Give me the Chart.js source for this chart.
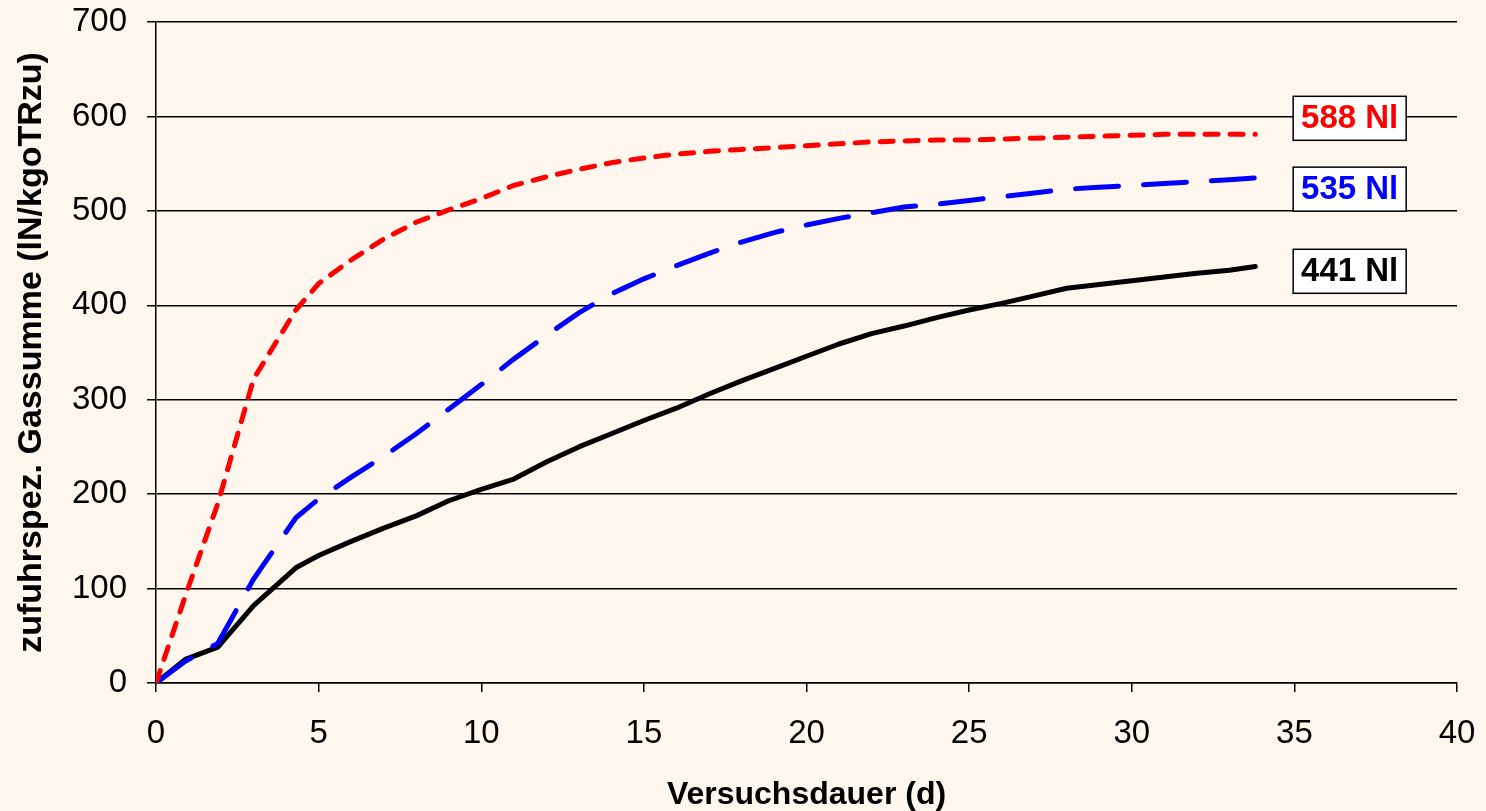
<!DOCTYPE html>
<html>
<head>
<meta charset="utf-8">
<script src="https://cdn.jsdelivr.net/npm/chart.js@4/dist/chart.umd.min.js"></script>
<style>
  html, body { margin: 0; padding: 0; background: #FFF6EE; }
  #wrap { width: 1486px; height: 811px; }
</style>
</head>
<body>
<div id="wrap"><canvas id="c" width="1486" height="811"></canvas></div>
<script>
// ---- data ----
const days = [0, 0.9, 1.9, 3.0, 4.3, 5, 6, 7, 8, 9, 10, 11, 12, 13, 14, 15, 16, 17, 18, 19, 20, 21, 22, 23, 24, 25, 26, 27, 28, 29, 30, 31, 32, 33, 33.8];
const redValues = [0, 92, 190, 322, 395, 423, 448, 470, 488, 501, 513, 527, 536, 544, 551, 556, 560, 563, 565, 567, 569, 571, 573, 574, 575, 575, 576, 577, 578, 579, 580, 581, 581, 581, 581];
const blueValues = [0, 23, 42, 110, 175, 195, 218, 240, 264, 290, 316, 343, 368, 392, 412, 428, 442, 455, 467, 477, 485, 492, 498, 504, 507, 511, 515, 519, 523, 525, 527, 529, 531, 533, 535];
const blackValues = [0, 25, 38, 82, 122, 135, 150, 164, 177, 193, 205, 216, 234, 250, 264, 278, 291, 306, 320, 333, 346, 359, 370, 378, 387, 395, 402, 410, 418, 422, 426, 430, 434, 437, 441];
const endLabels = ['588 Nl', '535 Nl', '441 Nl'];
const endLabelY = [598, 523, 436];
const endLabelX = 36.7;
const xTitle = 'Versuchsdauer (d)';
const yTitle = 'zufuhrspez. Gassumme (lN/kgoTRzu)';

const toXY = (vals) => vals.map((v, i) => ({ x: days[i], y: v }));
const FONT = '"Liberation Sans", Arial, sans-serif';

const bgPlugin = {
  id: 'bg',
  beforeDraw(chart) {
    const ctx = chart.ctx;
    ctx.save();
    ctx.fillStyle = '#FFF6EE';
    ctx.fillRect(0, 0, chart.width, chart.height);
    ctx.restore();
  }
};

const labelPlugin = {
  id: 'endLabels',
  afterDatasetsDraw(chart) {
    const ctx = chart.ctx;
    const xs = chart.scales.x, ys = chart.scales.y;
    const colors = ['#FF0000', '#0000FF', '#000000'];
    ctx.save();
    ctx.font = 'bold 33px ' + FONT;
    ctx.textAlign = 'center';
    ctx.textBaseline = 'middle';
    endLabels.forEach((t, i) => {
      const cx = xs.getPixelForValue(endLabelX);
      const cy = ys.getPixelForValue(endLabelY[i]);
      const w = 113, h = 44;
      ctx.fillStyle = '#FFFFFF';
      ctx.fillRect(cx - w / 2, cy - h / 2, w, h);
      ctx.lineWidth = 1.5;
      ctx.strokeStyle = '#000000';
      ctx.strokeRect(cx - w / 2, cy - h / 2, w, h);
      ctx.fillStyle = colors[i];
      ctx.fillText(t, cx, cy + 1);
    });
    ctx.restore();
  }
};

new Chart(document.getElementById('c'), {
  type: 'line',
  data: {
    datasets: [
      { data: toXY(redValues), borderColor: '#FF0000', borderWidth: 5, borderDash: [13, 12], borderCapStyle: 'round', pointRadius: 0, fill: false, tension: 0 },
      { data: toXY(blueValues), borderColor: '#0000FF', borderWidth: 5, borderDash: [43, 25], borderCapStyle: 'round', pointRadius: 0, fill: false, tension: 0 },
      { data: toXY(blackValues), borderColor: '#000000', borderWidth: 5, borderCapStyle: 'round', borderJoinStyle: 'round', pointRadius: 0, fill: false, tension: 0 }
    ]
  },
  options: {
    responsive: false,
    animation: false,
    layout: { padding: { left: 0, top: 22, right: 29, bottom: 0 } },
    plugins: { legend: { display: false }, tooltip: { enabled: false } },
    scales: {
      x: {
        type: 'linear', min: 0, max: 40,
        ticks: { stepSize: 5, color: '#000', font: { family: FONT, size: 33 }, padding: 22, maxRotation: 0 },
        grid: { display: true, drawOnChartArea: false, drawTicks: true, tickLength: 9, color: '#000', lineWidth: 1.5 },
        border: { display: true, color: '#000', width: 1.5 },
        title: { display: true, text: xTitle, color: '#000', font: { family: FONT, size: 32, weight: 'bold', lineHeight: 1 }, padding: { top: 0, bottom: 0 } },
        afterFit(s) { s.height = 128; s.paddingLeft = 0; s.paddingRight = 0; }
      },
      y: {
        min: 0, max: 700,
        ticks: { stepSize: 100, color: '#000', font: { family: FONT, size: 33 }, padding: 20 },
        grid: { display: true, drawTicks: true, tickLength: 9, color: '#000', lineWidth: 1.5 },
        border: { display: true, color: '#000', width: 1.5 },
        title: { display: true, text: yTitle, color: '#000', font: { family: FONT, size: 34, weight: 'bold', lineHeight: 1 }, padding: { top: 15, bottom: 0 } },
        afterFit(s) { s.width = 156; s.paddingTop = 0; s.paddingBottom = 0; }
      }
    }
  },
  plugins: [bgPlugin, labelPlugin]
});
</script>
</body>
</html>
